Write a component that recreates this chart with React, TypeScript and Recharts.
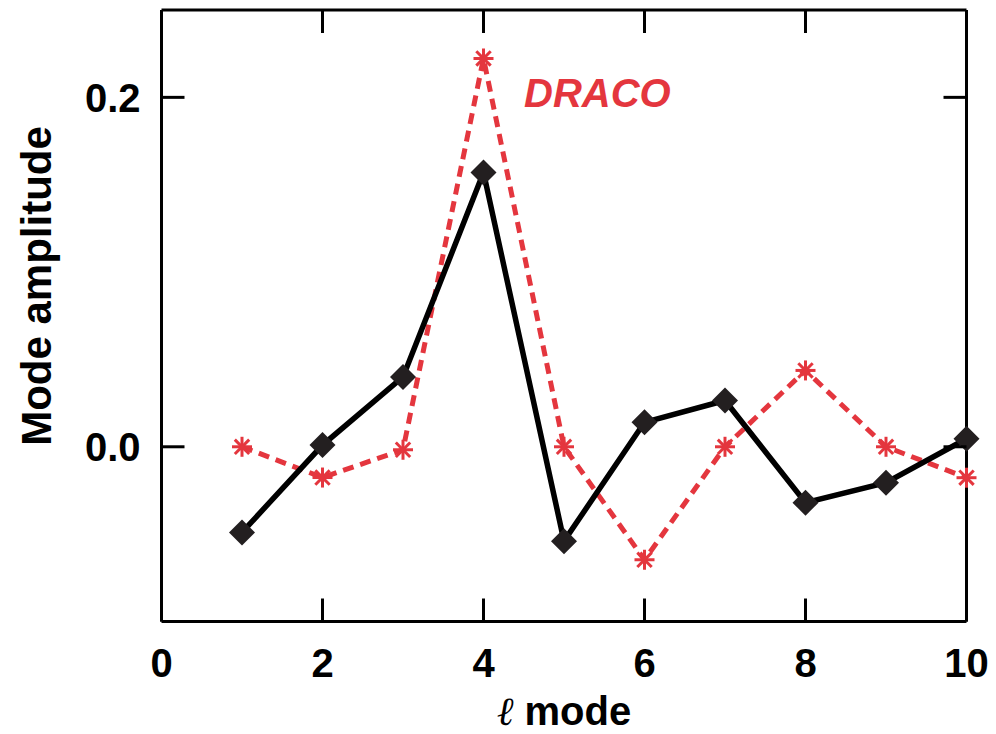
import React from 'react';
import { LineChart, Line, XAxis, YAxis, Customized } from 'recharts';

const modes = [1, 2, 3, 4, 5, 6, 7, 8, 9, 10];
const measured = [-0.049, 0.001, 0.04, 0.157, -0.054, 0.014, 0.0265, -0.032, -0.0206, 0.0046];
const draco = [0, -0.0176, -0.0017, 0.2223, 0, -0.0647, 0, 0.0437, 0, -0.0177];
const xTicks = [0, 2, 4, 6, 8, 10];
const yTicks = [0, 0.2];

const data = modes.map((m, i) => ({ mode: m, measured: measured[i], draco: draco[i] }));

const FONT = '"Liberation Sans", Arial, Helvetica, sans-serif';
const RED = '#e4363e';
const TICK = 23;

const BottomTick = (props: any) => {
  const { x, y, payload } = props;
  return (
    <g>
      <line x1={x} y1={y} x2={x} y2={y - TICK} stroke="#000" strokeWidth={3} />
      <text x={x} y={y + 55} textAnchor="middle" fontSize={40} fontWeight="bold" fontFamily={FONT} fill="#000">
        {payload.value}
      </text>
    </g>
  );
};

const TopTick = (props: any) => {
  const { x, y } = props;
  return <line x1={x} y1={y} x2={x} y2={y + TICK} stroke="#000" strokeWidth={3} />;
};

const LeftTick = (props: any) => {
  const { x, y, payload } = props;
  return (
    <g>
      <line x1={x} y1={y} x2={x + TICK} y2={y} stroke="#000" strokeWidth={3} />
      <text x={x - 21} y={y} dy="0.36em" textAnchor="end" fontSize={40} fontWeight="bold" fontFamily={FONT} fill="#000">
        {Number(payload.value).toFixed(1)}
      </text>
    </g>
  );
};

const RightTick = (props: any) => {
  const { x, y } = props;
  return <line x1={x} y1={y} x2={x - TICK} y2={y} stroke="#000" strokeWidth={3} />;
};

const Diamond = (props: any) => {
  const { cx, cy } = props;
  if (cx == null || cy == null) return null;
  const r = 13;
  return (
    <polygon
      points={`${cx},${cy - r} ${cx + r},${cy} ${cx},${cy + r} ${cx - r},${cy}`}
      fill="#231f20"
    />
  );
};

const Asterisk = (props: any) => {
  const { cx, cy } = props;
  if (cx == null || cy == null) return null;
  const r = 10;
  const d = r * 0.72;
  return (
    <g stroke={RED} strokeWidth={3}>
      <line x1={cx - r} y1={cy} x2={cx + r} y2={cy} />
      <line x1={cx} y1={cy - r} x2={cx} y2={cy + r} />
      <line x1={cx - d} y1={cy - d} x2={cx + d} y2={cy + d} />
      <line x1={cx - d} y1={cy + d} x2={cx + d} y2={cy - d} />
    </g>
  );
};

const Texts = () => (
  <g fontFamily={FONT} fontWeight="bold">
    <text x={51} y={286} transform="rotate(-90 51 286)" textAnchor="middle" fontSize={42} fill="#000">
      Mode amplitude
    </text>
    <text x={564} y={725} textAnchor="middle" fontSize={40} fill="#000">
      <tspan fontWeight="normal" fontStyle="italic" fontFamily='"DejaVu Serif", serif'>ℓ</tspan> mode
    </text>
    <text x={524} y={107} fontSize={40} fontStyle="italic" fill={RED}>
      DRACO
    </text>
  </g>
);

export default function App() {
  return (
    <div style={{ position: 'absolute', left: 0, top: 0, background: '#fff' }}>
      <LineChart
        width={996}
        height={734}
        data={data}
        margin={{ top: 5, right: 9.5, bottom: 52.5, left: 61.5 }}
      >
        <XAxis
          dataKey="mode"
          type="number"
          domain={[0, 10]}
          ticks={xTicks}
          height={60}
          axisLine={{ stroke: '#000', strokeWidth: 3 }}
          tickLine={false}
          tickSize={0}
          tickMargin={0}
          tick={BottomTick}
          interval={0}
        />
        <XAxis
          xAxisId="top"
          orientation="top"
          dataKey="mode"
          type="number"
          domain={[0, 10]}
          ticks={xTicks}
          height={5}
          axisLine={{ stroke: '#000', strokeWidth: 3 }}
          tickLine={false}
          tickSize={0}
          tickMargin={0}
          tick={TopTick}
          interval={0}
        />
        <YAxis
          type="number"
          domain={[-0.1, 0.25]}
          ticks={yTicks}
          width={100}
          axisLine={{ stroke: '#000', strokeWidth: 3 }}
          tickLine={false}
          tickSize={0}
          tickMargin={0}
          tick={LeftTick}
          interval={0}
          allowDataOverflow
        />
        <YAxis
          yAxisId="right"
          orientation="right"
          type="number"
          domain={[-0.1, 0.25]}
          ticks={yTicks}
          width={20}
          axisLine={{ stroke: '#000', strokeWidth: 3 }}
          tickLine={false}
          tickSize={0}
          tickMargin={0}
          tick={RightTick}
          interval={0}
          allowDataOverflow
        />
        <Line
          dataKey="draco"
          stroke={RED}
          strokeWidth={5}
          strokeDasharray="11 7"
          dot={(p: any) => <Asterisk key={`a-${p.index}`} {...p} />}
          activeDot={false}
          isAnimationActive={false}
        />
        <Line
          dataKey="measured"
          stroke="#000"
          strokeWidth={5.5}
          dot={(p: any) => <Diamond key={`d-${p.index}`} {...p} />}
          activeDot={false}
          isAnimationActive={false}
        />
        <Customized component={Texts} />
      </LineChart>
    </div>
  );
}
